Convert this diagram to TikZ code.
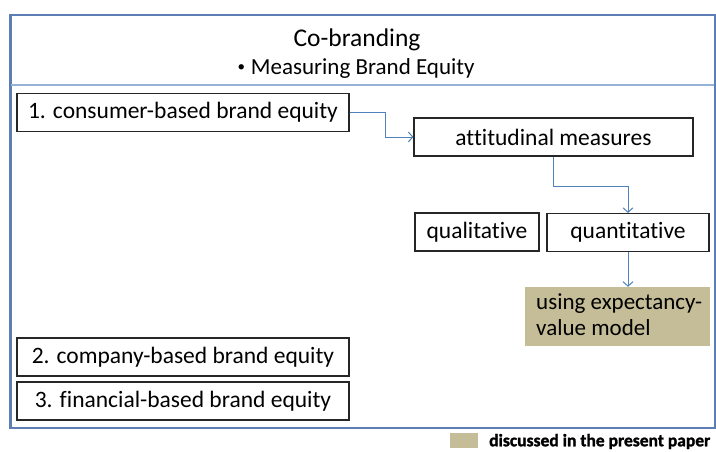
\documentclass[tikz,border=0pt]{standalone}
\usepackage{fontspec}
\setmainfont[Ligatures=NoCommon]{Carlito}
\newfontfamily\keyfont[Ligatures=NoCommon, FakeBold=1.5]{Carlito}
\usetikzlibrary{arrows.meta}
\definecolor{framec}{HTML}{5B7FB5}
\definecolor{sepc}{HTML}{95B3D7}
\definecolor{linkc}{HTML}{4F81BD}
\definecolor{tanc}{HTML}{C4BD97}
\tikzset{
  item/.style={draw=black!85, line width=1.1pt, fill=white, inner sep=0pt,
    minimum height=38pt, font=\fontsize{23.5}{27}\selectfont},
  link/.style={draw=linkc, line width=1pt, -{Straight Barb[length=4.5pt,width=10pt]}},
}
\begin{document}
\begin{tikzpicture}[x=1pt,y=-1pt]
\useasboundingbox (0,0) rectangle (716,451);
% outer frame
\draw[framec, line width=1.8pt] (10,15) rectangle (715,428);
\draw[framec, line width=3pt] (10,15) -- (10,428);
\draw[sepc, line width=1.5pt] (11,85) -- (714,85);
% heading
\node[font=\fontsize{25.5}{30}\selectfont] (title) at (357,40) {Co-branding};
\node[font=\fontsize{23}{27}\selectfont] (sub) at (356,68) {{\fontsize{15}{15}\selectfont\raisebox{2.5pt}{\textbullet}}\hspace{6pt}Measuring Brand Equity};
% boxes
\node[item, minimum width=332pt] (b1) at (183,112.5) {1. consumer-based brand equity};
\node[item, minimum width=279pt] (att) at (553.5,137) {attitudinal measures};
\node[item, minimum width=124pt] (qual) at (477,232) {qualitative};
\node[item, minimum width=162pt] (quant) at (628,232.5) {quantitative};
\node[fill=tanc, minimum width=185pt, minimum height=59pt, inner sep=0pt] (tan) at (617.5,316.5) {};
\node[anchor=north west, align=left, inner sep=0pt, font=\fontsize{23}{26}\selectfont] (tantext) at (536,293.5) {using expectancy-\\value model};
\node[item, minimum width=332pt] (b2) at (183,357) {2. company-based brand equity};
\node[item, minimum width=332pt] (b3) at (183,401) {3. financial-based brand equity};
% connectors
\draw[link] (b1.east) -- ++(36,0) |- (att.west);
\draw[link] (att.south) -- ++(0,30) -| (quant.north);
\draw[link] (quant.south) -- (quant.south |- tan.north);
% legend
\node[fill=tanc, minimum width=28pt, minimum height=15pt, inner sep=0pt] (key) at (464,440.5) {};
\node[anchor=west, inner sep=0pt, font=\keyfont\fontsize{17.5}{18}\bfseries\selectfont] (keytext) at (489,441.5) {discussed in the present paper};
\end{tikzpicture}
\end{document}
